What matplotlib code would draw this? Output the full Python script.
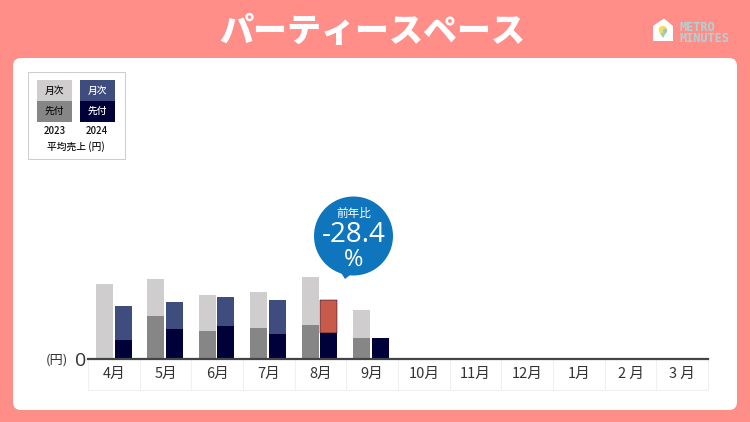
import matplotlib
matplotlib.use("Agg")
import numpy as np
import matplotlib.pyplot as plt
from matplotlib.patches import FancyBboxPatch, Rectangle, Circle, Polygon

plt.rcParams['font.family'] = ['Noto Sans CJK JP', 'DejaVu Sans']

months = ['4月', '5月', '6月', '7月', '8月', '9月', '10月', '11月', '12月', '1月', '2 月', '3 月']
# 先付 (advance) and total per month
adv_2023 = [0, 42.4, 28, 30.4, 34, 20.4, 0, 0, 0, 0, 0, 0]
tot_2023 = [74.7, 79.7, 63.7, 67, 81.7, 49, 0, 0, 0, 0, 0, 0]
adv_2024 = [18.7, 29.4, 32.4, 24.7, 25.4, 20.4, 0, 0, 0, 0, 0, 0]
tot_2024 = [52.7, 56.4, 61.4, 58.4, 58.4, 20.4, 0, 0, 0, 0, 0, 0]
highlight = 4  # 8月 is the selected month

BG = '#FF8E88'
LIGHT_GREY = '#CFCDCE'
DARK_GREY = '#868686'
BLUE = '#3E4C7E'
NAVY = '#01013A'
RED = '#C85A4A'
CALLOUT = '#0F75BD'
TEXT = '#333333'

W, H = 750, 422
fig = plt.figure(figsize=(7.5, 4.22), dpi=100, facecolor=BG)

##### background layer in pixel coords
bg = fig.add_axes([0, 0, 1, 1], zorder=0)
bg.set_xlim(0, W)
bg.set_ylim(H, 0)
bg.axis('off')

bg.add_patch(FancyBboxPatch((13, 58), 724, 352, boxstyle="round,pad=0,rounding_size=8",
                            fc='white', ec='none'))
bg.text(372.5, 31.5, 'パーティースペース', color='white', fontsize=24.5, fontweight='heavy',
        ha='center', va='center')

# logo
bg.add_patch(Polygon([(653, 41), (653, 26), (664, 18.5), (673, 26), (673, 41)], fc='white', ec='none'))
bg.add_patch(Circle((663, 30), 4.2, fc='#F3DC5A', ec='none'))
bg.add_patch(Circle((665, 31), 2.2, fc='#8CCBD6', ec='none'))
bg.add_patch(Polygon([(660, 33), (666, 33), (663, 38)], fc='#9CCFB5', ec='none'))
bg.text(679.5, 33, 'METRO\nMINUTES', color='#AFD3D3', fontsize=8.6, fontweight='bold',
        family='DejaVu Sans Mono', va='center', linespacing=0.85)

# legend box
bg.add_patch(Rectangle((27.5, 71.5), 97, 87, fc='white', ec='#CCCCCC', lw=0.7))
bg.add_patch(Rectangle((37, 80), 35, 21, fc=LIGHT_GREY, ec='none'))
bg.add_patch(Rectangle((37, 101), 35, 20.5, fc=DARK_GREY, ec='none'))
bg.add_patch(Rectangle((79.5, 80), 35, 21, fc=BLUE, ec='none'))
bg.add_patch(Rectangle((79.5, 101), 35, 20.5, fc=NAVY, ec='none'))
bg.text(54.5, 90.5, '月次', color='#111111', fontsize=7, fontweight='medium', ha='center', va='center')
bg.text(54.5, 111, '先付', color='#111111', fontsize=7, fontweight='medium', ha='center', va='center')
bg.text(97, 90.5, '月次', color='white', fontsize=7, fontweight='medium', ha='center', va='center')
bg.text(97, 111, '先付', color='white', fontsize=7, fontweight='medium', ha='center', va='center')
bg.text(54.5, 130.5, '2023', color='#111111', fontsize=7, fontweight='medium', ha='center', va='center')
bg.text(97, 130.5, '2024', color='#111111', fontsize=7, fontweight='medium', ha='center', va='center')
bg.text(76, 147, '平均売上 (円)', color='#111111', fontsize=7, fontweight='medium', ha='center', va='center')

# callout
bg.add_patch(Polygon([(338, 268), (345, 279), (354, 272)], fc=CALLOUT, ec='none'))
bg.add_patch(Circle((353.5, 236), 39.5, fc=CALLOUT, ec='none'))
bg.text(353.5, 213, '前年比', color='white', fontsize=8.4, ha='center', va='center')
bg.text(353.5, 235, '-28.4', color='white', fontsize=20, family='Open Sans', ha='center', va='center')
bg.text(353.5, 259.5, '%', color='white', fontsize=17, family='Open Sans', ha='center', va='center')

bg.text(57, 360, '(円)', color=TEXT, fontsize=9.5, ha='center', va='center')
bg.plot([88, 708], [390, 390], color='#F0F0F0', lw=0.8)

##### chart layer: y unit is one pixel, baseline at 358.5
top = 180
ax = fig.add_axes([88 / W, 1 - 358.5 / H, 620 / W, (358.5 - top) / H], zorder=1)
ax.patch.set_alpha(0)
x = np.arange(len(months))
bar_x = x * 0.995  # bars run a touch tighter than the month cells
width = 0.33
offset = 0.18

mon_2023 = np.array(tot_2023) - np.array(adv_2023)
mon_2024 = np.array(tot_2024) - np.array(adv_2024)
colors_2024 = [RED if i == highlight else BLUE for i in x]

ax.bar(bar_x - offset, adv_2023, width, color=DARK_GREY)
ax.bar(bar_x - offset, mon_2023, width, bottom=adv_2023, color=LIGHT_GREY)
ax.bar(bar_x + offset, adv_2024, width, color=NAVY)
ax.bar(bar_x + offset, mon_2024, width, bottom=adv_2024, color=colors_2024,
       edgecolor=[NAVY if i == highlight else 'none' for i in x], linewidth=0.35)

ax.set_xlim(-0.5, len(months) - 0.5)
ax.set_ylim(0, 358.5 - top)
for s in ['top', 'left', 'right']:
    ax.spines[s].set_visible(False)
ax.spines['bottom'].set_color('#444444')
ax.spines['bottom'].set_linewidth(1.6)

ax.set_xticks(x)
ax.set_xticklabels(months, fontsize=10.5, color=TEXT)
ax.tick_params(axis='x', which='major', length=0, pad=6)
# cell borders of the month table
ax.set_xticks(np.arange(len(months) + 1) - 0.5, minor=True)
ax.tick_params(axis='x', which='minor', length=22.5, color='#F0F0F0', width=0.8)
ax.set_yticks([0])
ax.set_yticklabels(['0'], fontsize=14, color=TEXT, family='Open Sans')
ax.tick_params(axis='y', length=0, pad=1)

fig.savefig('out.png', dpi=100, facecolor=BG)
